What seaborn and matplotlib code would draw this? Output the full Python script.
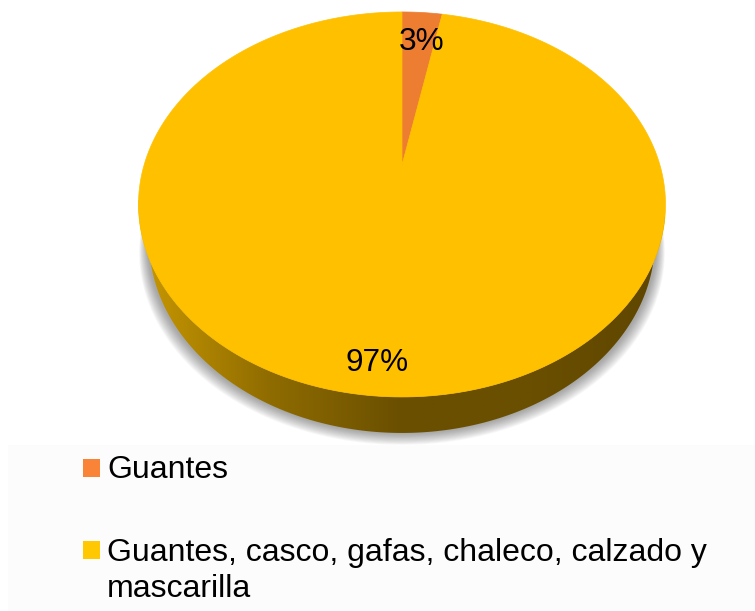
import numpy as np
import matplotlib
matplotlib.use("Agg")
import matplotlib.pyplot as plt
import seaborn as sns
from matplotlib.colors import to_rgba
from matplotlib.patches import Polygon, Rectangle

categories = ["Guantes", "Guantes, casco, gafas, chaleco, calzado y", "mascarilla"]
values = [3, 97]
colors = ["#ed7d31", "#ffc000"]
swatch_colors = ["#f98337", "#ffc800"]
wall_stops = ["#c99800", "#8f6c00", "#6a4f00", "#6a4f00", "#5f4600"]

sns.set_theme(style="white")
plt.rcParams["font.family"] = ["Liberation Sans", "DejaVu Sans"]

fig = plt.figure(figsize=(7.55, 6.11), dpi=100)
ax = fig.add_axes([0, 0, 1, 1])

# pie gives the slice angles, the tilt is done by hand below
wedges, _ = ax.pie(values, colors=colors, startangle=90, counterclock=False)
angles = [(w.theta1, w.theta2) for w in wedges]
for w in wedges:
    w.remove()

ax.set_aspect("auto")
ax.set_xlim(0, 755)
ax.set_ylim(611, 0)
ax.axis("off")

# tilted disc: apex at (402, 165), rim is the ellipse seen on the page
cx, cy = 402, 165
persp, ky, kx = 0.205, 184.4, 257.9


def project(theta):
    t = np.radians(theta)
    u, v = np.cos(t), np.sin(t)
    d = 1 + persp * v
    return cx + kx * u / d, cy - ky * v / d


def rim(t1, t2, n=300, shift=0.0, shrink=1.0):
    x, y = project(np.linspace(t1, t2, n))
    return np.column_stack((cx + (x - cx) * shrink, y + shift))


# backdrop behind the legend
ax.add_patch(Rectangle((8, 445), 747, 166, color="#fcfcfc", lw=0, zorder=0))

# soft shadow under the disc
lower = rim(0, 360, shift=36, shrink=0.965)
for i in range(14):
    grow = 14 - i
    shadow = np.column_stack((cx + (lower[:, 0] - cx) * (1 + grow * 0.0024),
                              lower[:, 1] + grow * 0.85))
    ax.add_patch(Polygon(shadow, color=to_rgba("#303030", 0.035), lw=0, zorder=1))

# side wall, gradient clipped to the wall outline
wall_out = rim(180, 360, shift=36, shrink=0.96)
wall_top = rim(360, 180)
wall_poly = Polygon(np.vstack((wall_out, wall_top)), closed=True, transform=ax.transData,
                    fc="none", lw=0, zorder=2)
ax.add_patch(wall_poly)
grad = np.array(sns.blend_palette(wall_stops, 256))[np.newaxis, :, :]
im = ax.imshow(grad, extent=(138, 665, 440, 200), aspect="auto", zorder=2)
im.set_clip_path(wall_poly)
ax.set_xlim(0, 755)
ax.set_ylim(611, 0)

# top of the disc
for (t1, t2), color in zip(angles, colors):
    pts = np.vstack(([[cx, cy]], rim(t1, t2)))
    ax.add_patch(Polygon(pts, closed=True, fc=color, ec=color, lw=0.5, zorder=3))

label_pos = [(422, 42), (377, 363)]
for v, (lx, ly) in zip(values, label_pos):
    ax.text(lx, ly, f"{v}%", fontsize=22.7, color="black", ha="center", va="center", zorder=4)

# legend
legend_y = [459, 541]
text_y = [478, 561, 597]
for color, sy in zip(swatch_colors, legend_y):
    ax.add_patch(Rectangle((83, sy), 17, 17.5, color=color, lw=0, zorder=4))
for name, ty in zip(categories, text_y):
    ax.text(107, ty, name, fontsize=23, color="black", ha="left", va="baseline", zorder=4)

fig.savefig("out.png", dpi=100)
